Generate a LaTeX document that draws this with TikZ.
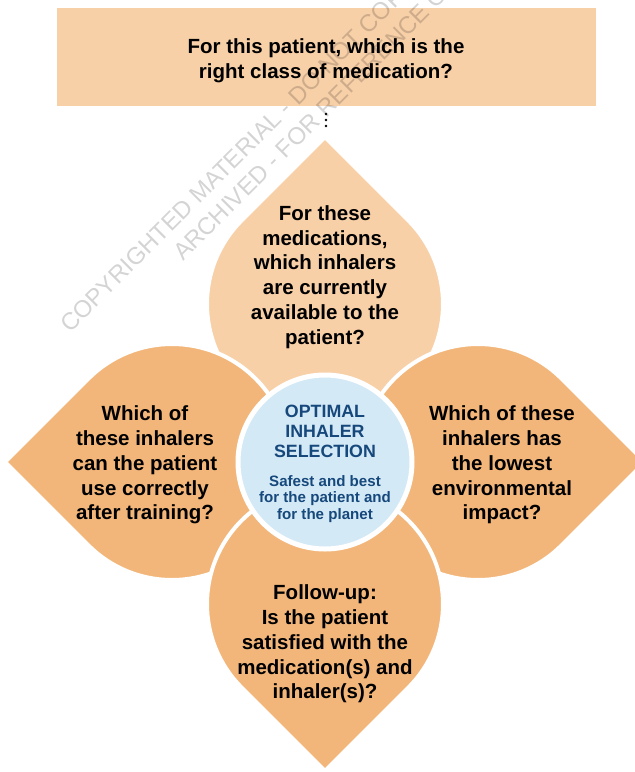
\documentclass[tikz,border=0pt]{standalone}
\usepackage{fontspec}
\setmainfont{Liberation Sans}
\definecolor{peachL}{RGB}{248,208,168}
\definecolor{peachD}{RGB}{243,182,122}
\definecolor{hubblue}{RGB}{212,233,246}
\definecolor{navy}{RGB}{22,72,124}
\newcommand{\mypetal}[4]{%
  \path[petal,fill=#4,shift={(#1,#2)}] ({#3}:167) -- ({#3+45}:118)
    arc[start angle={#3+45}, end angle={#3+315}, radius=118] -- cycle;}
\begin{document}
\begin{tikzpicture}[x=1pt,y=-1pt,
  petal/.style={draw=white, line width=4pt, line join=round},
  qtext/.style={font=\fontsize{20.5}{24.8}\selectfont\bfseries, align=center, text=black, inner sep=0pt},
  hubtitle/.style={font=\fontsize{17.8}{20}\selectfont\bfseries, align=center, text=navy, inner sep=0pt},
  hubsub/.style={font=\fontsize{15.1}{16.6}\selectfont\bfseries, align=center, text=navy, inner sep=0pt},
  wm/.style={font=\fontsize{24}{28}\selectfont, text=black, text opacity=0.17, inner sep=0pt, anchor=base west, rotate=45}]
\useasboundingbox (0,0) rectangle (635,772);
\clip (0,0) rectangle (635,772);
\fill[white] (0,0) rectangle (635,772);
% top box
\fill[peachL] (57,8) rectangle (596,106);
\node[qtext] (q0) at (326,61) {For this patient, which is the\\right class of medication?};
% dots
\foreach \yy in {114,120,126} \fill (326,\yy) circle[radius=1.4];
% petals
\mypetal{325}{304}{270}{peachL}
\mypetal{172}{462}{180}{peachD}
\mypetal{478}{462}{0}{peachD}
\mypetal{325}{604}{90}{peachD}
% hub
\path[fill=hubblue, draw=white, line width=5pt] (325,462) circle[radius=87];
% texts
\node[qtext] (q1) at (325,277) {For these\\medications,\\which inhalers\\are currently\\available to the\\patient?};
\node[qtext] (q2) at (145,465) {Which of\\these inhalers\\can the patient\\use correctly\\after training?};
\node[qtext] (q3) at (502,465) {Which of these\\inhalers has\\the lowest\\environmental\\impact?};
\node[qtext] (q4) at (325,644) {Follow-up:\\Is the patient\\satisfied with the\\medication(s) and\\inhaler(s)?};
\node[hubtitle] (ht) at (325,431) {OPTIMAL\\INHALER\\SELECTION};
\node[hubsub] (hs) at (325,499) {Safest and best\\for the patient and\\for the planet};
% watermark
\node[wm] (wm1) at (70,334) {COPYRIGHTED MATERIAL - DO NOT COPY};
\node[wm] (wm2) at (183,262) {ARCHIVED - FOR REFERENCE ONLY};
\end{tikzpicture}
\end{document}
